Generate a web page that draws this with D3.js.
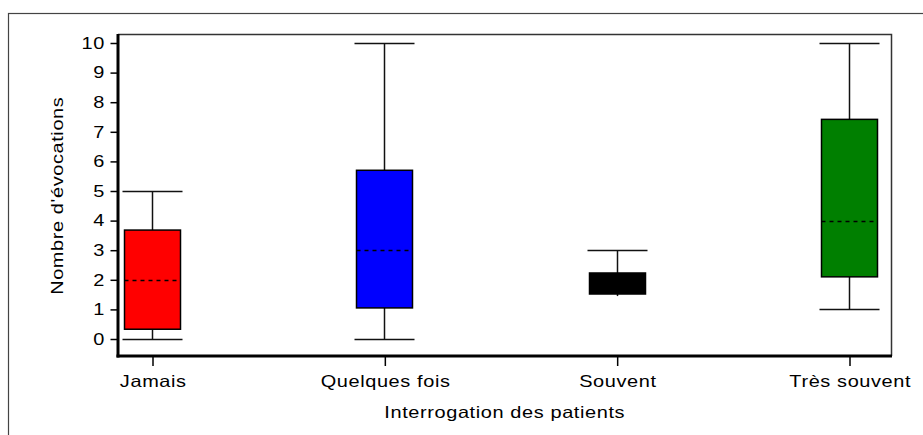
<!DOCTYPE html>
<html><head><meta charset="utf-8">
<script src="https://cdn.jsdelivr.net/npm/d3@7"></script>
<style>body{margin:0;background:#fff}svg{display:block}
text{font-family:"Liberation Sans",Arial,sans-serif;font-size:16.5px;letter-spacing:0.5px;fill:#000;
  transform-box:fill-box;transform-origin:center;transform:scaleX(1.21)}
text.yt{transform-origin:right center}</style>
</head><body>
<svg id="c" width="923" height="435"></svg>
<script>
const categories = ["Jamais", "Quelques fois", "Souvent", "Très souvent"];
const mins    = [0,    0,    1.45, 1];
const q1s     = [0.33, 1.05, 1.52, 2.1];
const medians = [2,    3,    1.9,  4];
const q3s     = [3.68, 5.7,  2.23, 7.42];
const maxs    = [5,    10,   3,    10];
const colors  = ["#ff0000", "#0000ff", "#000000", "#007f00"];
const yTicks  = [0,1,2,3,4,5,6,7,8,9,10];

const LS = 0.5;
const svg = d3.select("#c");
svg.append("rect").attr("x",8.5).attr("y",13.5).attr("width",1000).attr("height",1000)
  .attr("fill","none").attr("stroke","#444").attr("stroke-width",1.2);

const L=118, R=891, T=34, B=356;
const x = d3.scalePoint().domain(categories).range([152, 849]);
const y = d3.scaleLinear().domain([0,10]).range([339, 43]);

svg.append("path").attr("d",`M${L},${T+0.5}H${R+0.5}V${B}`).attr("fill","none")
  .attr("stroke","#333").attr("stroke-width",1.5);

const data = categories.map((c,i)=>({c,min:mins[i],q1:q1s[i],med:medians[i],q3:q3s[i],max:maxs[i],col:colors[i]}));
const bw = 56, cw = 60;
const g = svg.append("g");
data.forEach(d=>{
  const cx = Math.round(x(d.c))+0.5;
  const ln = (x1,x2,y1,y2)=>g.append("line").attr("x1",x1).attr("x2",x2).attr("y1",y1).attr("y2",y2).attr("stroke","#111").attr("stroke-width",1.5);
  ln(cx,cx,y(d.max),y(d.q3));
  ln(cx,cx,y(d.q1),y(d.min));
  const ymax = Math.round(y(d.max))+0.5;
  ln(cx-cw/2,cx+cw/2,ymax,ymax);
  if (d.min < d.q1 - 0.2) {
    const ymin = Math.round(y(d.min))+0.5;
    ln(cx-cw/2,cx+cw/2,ymin,ymin);
  }
  g.append("rect").attr("x",cx-bw/2).attr("y",y(d.q3)).attr("width",bw).attr("height",y(d.q1)-y(d.q3))
    .attr("fill",d.col).attr("stroke","#000").attr("stroke-width",1.5);
  g.append("line").attr("x1",cx-bw/2).attr("x2",cx+bw/2).attr("y1",Math.round(y(d.med))+0.5).attr("y2",Math.round(y(d.med))+0.5)
    .attr("stroke","#000").attr("stroke-width",1.5).attr("stroke-dasharray","4,4");
});

// y axis
const ya = d3.axisLeft(y).tickValues(yTicks).tickSize(7).tickPadding(6);
const yg = svg.append("g").attr("transform",`translate(${L-0.5},0)`).call(ya);
yg.attr("font-size",null).attr("font-family",null);
yg.select(".domain").remove();
yg.selectAll(".tick line").attr("stroke","#000").attr("stroke-width",1.5);
yg.selectAll("text").attr("class","yt").attr("fill","#000").attr("dx",LS);
svg.append("line").attr("x1",L).attr("x2",L).attr("y1",T).attr("y2",B+1.5).attr("stroke","#000").attr("stroke-width",3);

// x axis
const xa = d3.axisBottom(x).tickSize(10).tickPadding(9);
const xg = svg.append("g").attr("transform",`translate(0.5,${B})`).call(xa);
xg.attr("font-size",null).attr("font-family",null);
xg.select(".domain").remove();
xg.selectAll(".tick line").attr("stroke","#000").attr("stroke-width",1.5);
xg.selectAll("text").attr("fill","#000").attr("dx",LS/2);
svg.append("line").attr("x1",L-1.5).attr("x2",R+1).attr("y1",B).attr("y2",B).attr("stroke","#000").attr("stroke-width",3);

svg.append("text").attr("x",(L+R)/2).attr("dx",LS/2).attr("y",418).attr("text-anchor","middle").text("Interrogation des patients");
svg.append("g").attr("transform",`translate(63,196) rotate(-90)`)
  .append("text").attr("dx",LS/2).attr("text-anchor","middle").text("Nombre d'évocations");
</script>
</body></html>
